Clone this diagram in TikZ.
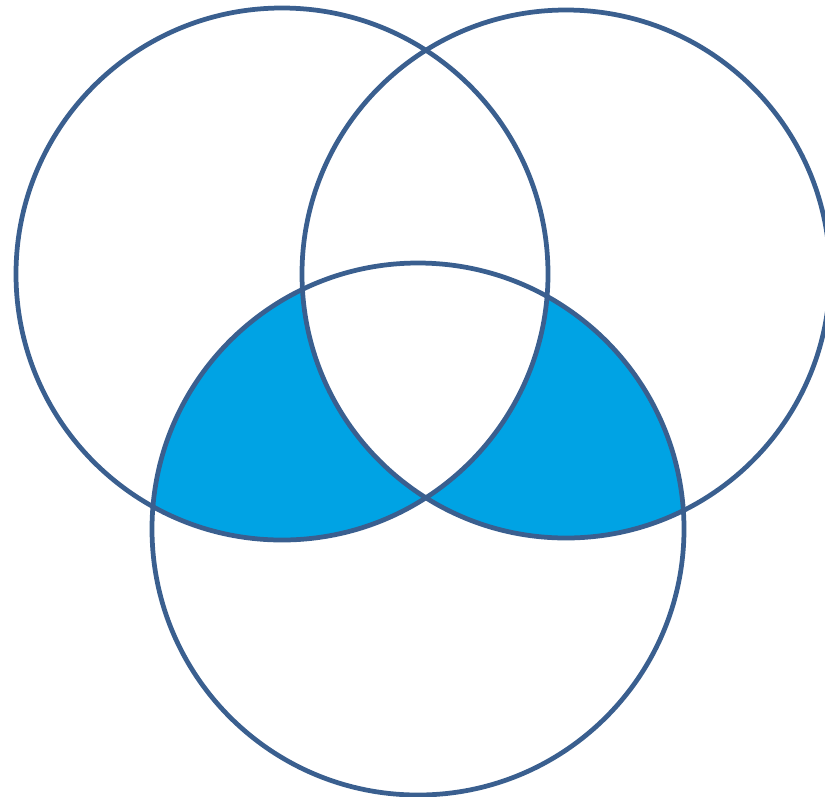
\documentclass[tikz,border=0pt]{standalone}
\definecolor{ringblue}{HTML}{3A5F8F}
\definecolor{fillblue}{HTML}{00A3E4}
\begin{document}
\begin{tikzpicture}[x=0.02cm,y=-0.02cm,
  ring/.style={draw=ringblue,line width=0.095cm}]
\useasboundingbox (0,0) rectangle (825,796);
\coordinate (cA) at (282,274);
\coordinate (cB) at (566,274);
\coordinate (cC) at (418,529);
\begin{scope}
  \clip (cC) circle[radius=266];
  \fill[fillblue,even odd rule] (cA) circle[radius=266] (cB) circle[radius=264];
\end{scope}
\draw[ring] (cA) circle[radius=266];
\draw[ring] (cB) circle[radius=264];
\draw[ring] (cC) circle[radius=266];
\end{tikzpicture}
\end{document}
